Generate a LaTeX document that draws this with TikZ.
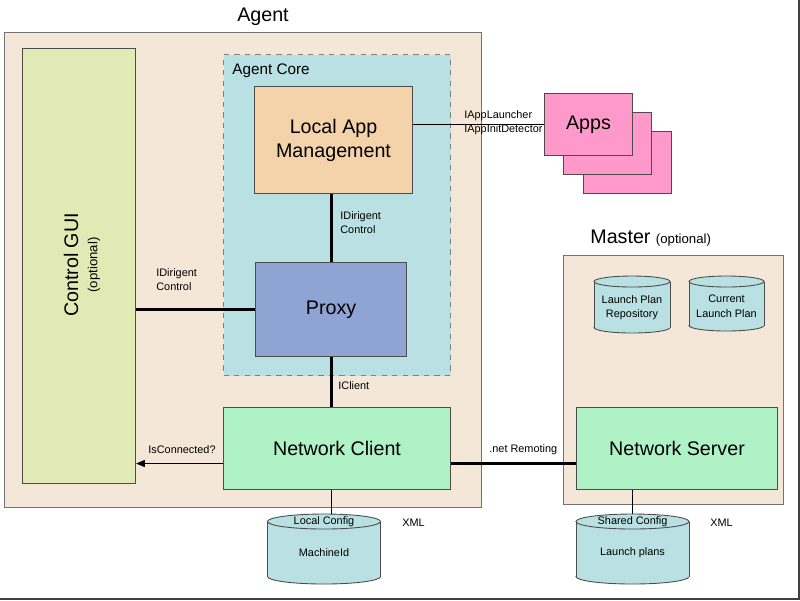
\documentclass[tikz,border=0pt]{standalone}
\usepackage{fontspec}
\setmainfont{Liberation Sans}
\usetikzlibrary{arrows.meta,positioning,calc}
\newdimen\pxu \pxu=0.02cm
\definecolor{shellbg}{HTML}{F5E7D8}
\definecolor{guibg}{HTML}{E1EAB4}
\definecolor{corebg}{HTML}{B9E0E2}
\definecolor{lambg}{HTML}{F5D3AA}
\definecolor{proxybg}{HTML}{8FA4D2}
\definecolor{netbg}{HTML}{AEF2C5}
\definecolor{appbg}{HTML}{FF99CC}
\newcommand{\bigtxt}{\fontsize{11.2}{13.7}\selectfont}
\newcommand{\midtxt}{\fontsize{7.5}{9}\selectfont}
\newcommand{\smalltxt}{\fontsize{6.2}{8}\selectfont}
\tikzset{
  shell/.style={draw=black!55, fill=shellbg, line width=0.6pt, anchor=north west, inner sep=0pt},
  comp/.style={draw=black!70, line width=0.6pt, anchor=north west, inner sep=0pt, font=\bigtxt, align=center},
  lbl/.style={font=\smalltxt, align=left, inner sep=0pt, anchor=west},
  bus/.style={line width=1.7pt},
  wire/.style={line width=0.6pt},
  cyl/.style={draw=black!70, fill=corebg, line width=0.5pt},
}
% database drum: name, centre x, top y, half width, height, rim radius, rim text, body text
\newcommand{\dbcyl}[8]{%
  \pgfmathsetmacro{\cybot}{#3+#5-#6}
  \pgfmathsetmacro{\cytop}{#3+#6}
  \filldraw[cyl] (#2,\cybot) ellipse[x radius=#4, y radius=#6];
  \fill[corebg] (#2-#4,\cytop) rectangle (#2+#4,\cybot);
  \draw[cyl] (#2-#4,\cytop) -- (#2-#4,\cybot) (#2+#4,\cytop) -- (#2+#4,\cybot);
  \filldraw[cyl] (#2,\cytop) ellipse[x radius=#4, y radius=#6];
  \coordinate (#1) at (#2,#3);
  \if\relax\detokenize{#7}\relax\else
    \node[font=\smalltxt, inner sep=0pt] (#1-rim) at (#2,#3+#6) {#7};
  \fi
  \node[font=\smalltxt, inner sep=0pt, align=center] (#1-body) at (#2,#3+#5/2+#6/2) {#8};
}

\begin{document}
\begin{tikzpicture}[x=0.02cm, y=-0.02cm]
  \useasboundingbox (0,0) rectangle (800,600);
  \draw[black!75, line width=1.2pt] (0,599) -- (799,599) -- (799,0);

  % agent side
  \node[shell, minimum width=477\pxu, minimum height=475\pxu] (agent) at (4,32) {};
  \node[font=\bigtxt] (agenttitle) at (263,16.5) {Agent};
  \node[comp, fill=guibg, minimum width=113\pxu, minimum height=435\pxu] (gui) at (22,48) {};
  \node[rotate=90, align=center, inner sep=0pt] (guitxt) at (82,265)
    {{\bigtxt Control GUI}\\[-1pt]{\midtxt (optional)}};
  \node[shell, draw=black!50, fill=corebg, dashed, minimum width=227\pxu, minimum height=321\pxu] (core) at (223,54) {};
  \node[anchor=west, inner sep=0pt, font=\fontsize{8.7}{10}\selectfont] (coretitle) at (232,71) {Agent Core};
  \node[comp, fill=lambg, minimum width=158\pxu, minimum height=107\pxu] (lam) at (254,86) {Local App\\Management};
  \node[comp, fill=proxybg, minimum width=151\pxu, minimum height=94\pxu] (proxy) at (255,262) {Proxy};
  \node[comp, fill=netbg, minimum width=227\pxu, minimum height=82\pxu] (client) at (223,407) {Network Client};

  % apps
  \node[comp, fill=appbg, minimum width=88\pxu, minimum height=62\pxu] (app3) at (583,131) {};
  \node[comp, fill=appbg, minimum width=88\pxu, minimum height=62\pxu] (app2) at (563,112) {};
  \node[comp, fill=appbg, minimum width=88\pxu, minimum height=62\pxu] (app1) at (544,93) {Apps};

  % master side
  \node[shell, minimum width=220\pxu, minimum height=249\pxu] (master) at (563,255) {};
  \node[anchor=west, inner sep=0pt] (mastertitle) at (590,238) {\bigtxt Master \midtxt(optional)};
  \node[comp, fill=netbg, minimum width=201\pxu, minimum height=82\pxu] (server) at (576,407) {Network Server};

  \dbcyl{lprepo}{632}{276}{38}{57}{5.5}{}{Launch Plan\\Repository}
  \dbcyl{lpcurrent}{726.5}{276}{37.5}{55}{5.5}{}{Current\\Launch Plan}
  \dbcyl{cfglocal}{324}{514}{56.5}{70}{7.5}{Local Config}{MachineId}
  \dbcyl{cfgshared}{632.5}{514}{56.5}{70}{7.5}{Shared Config}{Launch plans}
  \node[font=\smalltxt, anchor=west, inner sep=0pt] (xmllocal) at (402,523) {XML};
  \node[font=\smalltxt, anchor=west, inner sep=0pt] (xmlshared) at (710,523) {XML};

  % connections
  \draw[wire] (lam.east |- app1.west) -- (app1.west);
  \node[lbl] (applbl) at (464,123) {IAppLauncher\\IAppInitDetector};
  \draw[bus] (lam.south -| proxy.north) -- (proxy.north);
  \node[lbl] (dirlbl) at (340,223) {IDirigent\\Control};
  \draw[bus] (gui.east |- proxy.west) -- (proxy.west);
  \node[lbl] (guilbl) at (156,280) {IDirigent\\Control};
  \draw[bus] (proxy.south) -- (proxy.south |- client.north);
  \node[lbl] (clientlbl) at (338,386) {IClient};
  \draw[wire, -{Triangle[length=5pt, width=4pt]}] ([yshift=-15\pxu]client.west) coordinate (isc) -- (isc -| gui.east);
  \node[lbl] (isclbl) at (148,450) {IsConnected?};
  \draw[bus] ([yshift=-15\pxu]client.east) -- ([yshift=-15\pxu]server.west);
  \node[lbl] (remlbl) at (489,450) {.net Remoting};
  \draw[wire] (proxy.south |- client.south) -- (proxy.south |- cfglocal);
  \draw[wire] (server.south -| cfgshared) -- (cfgshared);
\end{tikzpicture}
\end{document}
